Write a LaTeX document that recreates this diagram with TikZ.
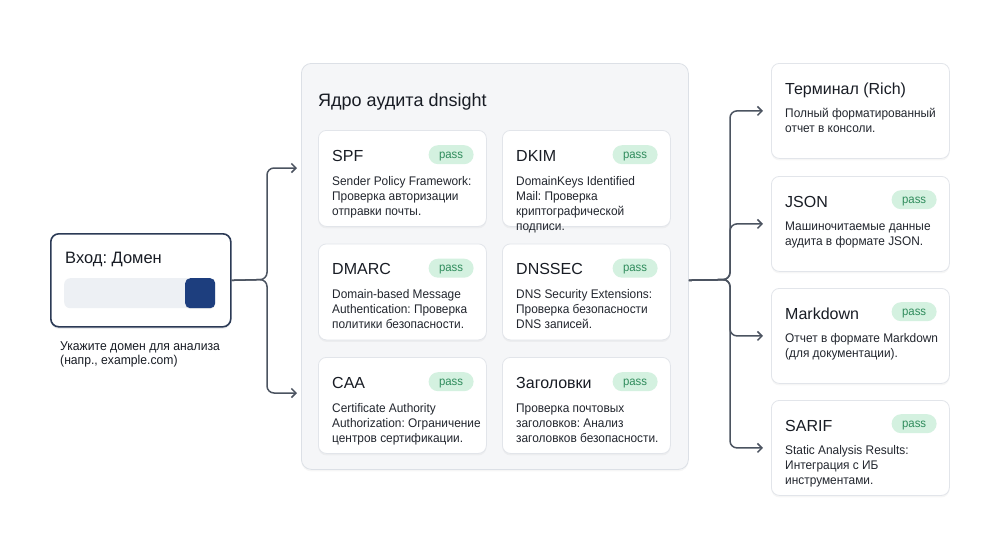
\documentclass[tikz,border=0pt]{standalone}
\usepackage{fontspec}
\setmainfont{Liberation Sans}
\newfontfamily\descfont[FakeStretch=0.95]{Liberation Sans}
\usetikzlibrary{arrows.meta,shadows,calc}
\frenchspacing
\definecolor{ink}{HTML}{181C24}
\definecolor{dink}{HTML}{22262E}
\definecolor{cardline}{HTML}{E2E5EA}
\definecolor{corefill}{HTML}{F5F6F8}
\definecolor{coreline}{HTML}{DCE0E6}
\definecolor{passfill}{HTML}{D4F1E0}
\definecolor{passtext}{HTML}{2F8C5C}
\definecolor{connc}{HTML}{4B5360}
\definecolor{navy}{HTML}{2B3A55}
\definecolor{fieldc}{HTML}{EDF0F4}
\definecolor{btnc}{HTML}{1D3E7E}
\newcommand\lns[2][15pt]{\vtop{\baselineskip=#1 #2}}
\tikzset{
  softshadow/.style={drop shadow={shadow xshift=0pt, shadow yshift=-2pt, opacity=0.07}},
  card/.style={draw=cardline, fill=white, rounded corners=8pt, line width=0.8pt,
    minimum width=168pt, minimum height=96pt, anchor=north west, inner sep=0pt, softshadow},
  outbox/.style={card, minimum width=178pt, minimum height=95pt},
  ttl/.style={anchor=base west, inner sep=0pt, text=ink, font=\fontsize{16}{19}\selectfont},
  dsc/.style={anchor=base west, inner sep=0pt, text=dink, font=\descfont\fontsize{12.5}{15}\selectfont},
  badgebox/.style={anchor=north east, fill=passfill, rounded corners=9.5pt, minimum width=45pt,
    minimum height=19pt, inner sep=0pt, text height=7.5pt, text depth=0pt, text=passtext,
    font=\descfont\fontsize{12}{14}\selectfont},
  conn/.style={draw=connc, line width=1.5pt, rounded corners=7pt,
    -{Straight Barb[length=4.5pt,width=9pt,line width=1.5pt]}},
}
\newcommand\mkcard[5]{%
  \node[#5] (#1) at (#2,#3) {};
  \node[ttl] (#1-t) at ([shift={(14,31)}]#1.north west) {#4};
}
\newcommand\mkdesc[3][55]{%
  \node[dsc] (#2-d) at ([shift={(14,#1)}]#2.north west) {\lns{#3}};
}
\newcommand\mkbadge[2][15]{%
  \node[badgebox] (#2-b) at ([shift={(-13,#1)}]#2.north east) {pass};
}
\begin{document}
\begin{tikzpicture}[x=1pt,y=-1pt]
\useasboundingbox (0,0) rectangle (1000,558);
\fill[white] (0,0) rectangle (1000,558);

% input
\node[draw=navy, fill=white, line width=1.6pt, rounded corners=8pt, minimum width=180pt,
  minimum height=93pt, anchor=north west, inner sep=0pt,
  drop shadow={shadow xshift=0pt, shadow yshift=-2pt, opacity=0.10, fill=navy}] (inp) at (50,233) {};
\node[anchor=base west, inner sep=0pt, text=ink, font=\fontsize{16.5}{19}\selectfont] (inp-t) at (65,263) {Вход: Домен};
\node[fill=fieldc, rounded corners=6pt, minimum width=151pt, minimum height=30pt, anchor=north west, inner sep=0pt] (fld) at (64,278) {};
\node[fill=btnc, rounded corners=5pt, minimum width=30pt, minimum height=30pt, anchor=north west, inner sep=0pt,
  drop shadow={shadow xshift=0pt, shadow yshift=-1pt, opacity=0.12}] (btn) at (185,278) {};
\node[anchor=base west, inner sep=0pt, text=ink, font=\descfont\fontsize{12.8}{14}\selectfont] (cap) at (60,350)
  {\lns[14pt]{\hbox{Укажите домен для анализа}\hbox{(напр., example.com)}}};

% core
\node[draw=coreline, fill=corefill, rounded corners=10pt, line width=0.8pt, minimum width=387pt,
  minimum height=406pt, anchor=north west, inner sep=0pt, softshadow] (core) at (301,63) {};
\node[anchor=base west, inner sep=0pt, text=ink, font=\fontsize{18}{21}\selectfont] (core-t) at (318,106) {Ядро аудита dnsight};

\mkcard{spf}{318}{130}{SPF}{card}\mkbadge{spf}
\mkdesc{spf}{\hbox{Sender Policy Framework:}\hbox{Проверка авторизации}\hbox{отправки почты.}}
\mkcard{dkim}{502}{130}{DKIM}{card}\mkbadge{dkim}
\mkdesc{dkim}{\hbox{DomainKeys Identified}\hbox{Mail: Проверка}\hbox{криптографической}\hbox{подписи.}}
\mkcard{dmarc}{318}{243.5}{DMARC}{card}\mkbadge{dmarc}
\mkdesc{dmarc}{\hbox{Domain-based Message}\hbox{Authentication: Проверка}\hbox{политики безопасности.}}
\mkcard{dnssec}{502}{243.5}{DNSSEC}{card}\mkbadge{dnssec}
\mkdesc{dnssec}{\hbox{DNS Security Extensions:}\hbox{Проверка безопасности}\hbox{DNS записей.}}
\mkcard{caa}{318}{357}{CAA}{card}\mkbadge{caa}
\mkdesc{caa}{\hbox{Certificate Authority}\hbox{Authorization: Ограничение}\hbox{центров сертификации.}}
\mkcard{hdr}{502}{357}{Заголовки}{card}\mkbadge{hdr}
\mkdesc{hdr}{\hbox{Проверка почтовых}\hbox{заголовков: Анализ}\hbox{заголовков безопасности.}}

% outputs
\mkcard{term}{771}{63}{Терминал (Rich)}{outbox}
\mkdesc[54]{term}{\hbox{Полный форматированный}\hbox{отчет в консоли.}}
\mkcard{json}{771}{176}{JSON}{outbox}\mkbadge[14]{json}
\mkdesc[54]{json}{\hbox{Машиночитаемые данные}\hbox{аудита в формате JSON.}}
\mkcard{md}{771}{288}{Markdown}{outbox}\mkbadge[14]{md}
\mkdesc[54]{md}{\hbox{Отчет в формате Markdown}\hbox{(для документации).}}
\mkcard{sarif}{771}{400}{SARIF}{outbox}\mkbadge[14]{sarif}
\mkdesc[54]{sarif}{\hbox{Static Analysis Results:}\hbox{Интеграция с ИБ}\hbox{инструментами.}}

% connectors
\coordinate (lb) at (267,279.5);
\coordinate (lt) at (297,168);
\coordinate (ld) at (297,393);
\draw[conn] (inp.east) -- (lb) |- (lt);
\draw[conn] (inp.east) -- (lb) |- (ld);
\coordinate (rb) at (730,279.5);
\foreach \t in {term,json,md,sarif}{
  \draw[conn, shorten >=8pt] (core.east |- inp.east) -- (rb) |- (\t.west);
}
\end{tikzpicture}
\end{document}
